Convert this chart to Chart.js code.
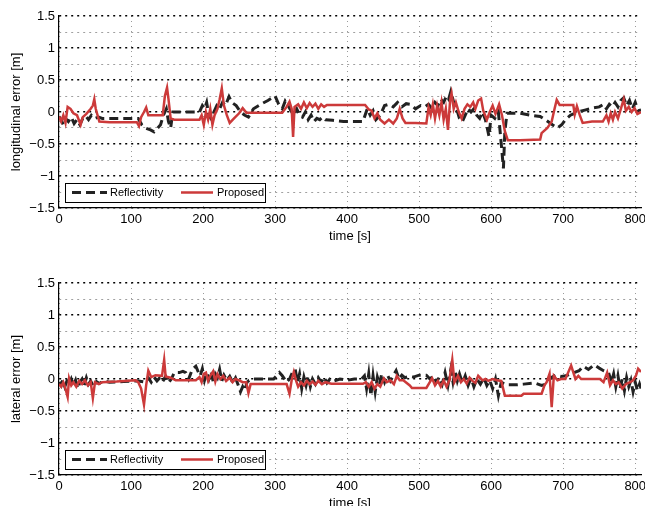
<!DOCTYPE html>
<html>
<head>
<meta charset="utf-8">
<script src="https://cdn.jsdelivr.net/npm/chart.js@4"></script>
<style>
  html, body { margin: 0; padding: 0; background: #fff; overflow: hidden; }
  canvas { position: absolute; left: 0; }
  #lonChart { top: 0; }
  #latChart { top: 267px; }
</style>
</head>
<body>
<canvas id="lonChart" width="645" height="253"></canvas>
<canvas id="latChart" width="645" height="253"></canvas>
<script>
// series labels
const seriesNames = ['Reflectivity', 'Proposed'];

// longitudinal error, Reflectivity
const lonReflT = [0,3,6,9,13,17,21,25,29,33,37,41,45,50,55,60,80,100,110,115,120,127,132,137,141,145,149,152,155,158,180,195,199,202,205,208,212,215,219,223,227,231,236,240,246,252,258,263,270,280,290,300,305,310,314,318,322,326,330,334,338,342,346,350,354,358,362,366,370,380,395,410,422,428,432,436,440,446,452,458,464,470,476,482,488,495,502,508,513,518,522,526,530,534,538,541,544,548,552,556,560,564,568,572,576,580,584,588,592,597,600,605,610,614,617,619,622,640,655,668,675,685,692,698,703,710,720,730,740,750,756,760,764,768,772,776,780,784,788,792,796,800,804,808];
const lonReflV = [-0.07,-0.12,-0.2,-0.1,-0.15,-0.08,-0.18,-0.12,-0.2,-0.1,-0.06,-0.12,-0.05,-0.1,-0.08,-0.1,-0.1,-0.1,-0.1,-0.2,-0.25,-0.28,-0.31,-0.25,-0.2,-0.05,0.05,-0.15,-0.25,0.0,0.0,0.0,0.1,0.05,0.15,-0.05,-0.12,0.0,0.1,0.05,0.15,0.1,0.24,0.15,0.1,0.0,-0.05,-0.08,0.05,0.12,0.18,0.25,0.12,0.05,0.17,0.1,0.02,-0.05,0.05,-0.05,-0.08,0.0,-0.12,-0.05,-0.15,-0.1,-0.12,-0.08,-0.12,-0.13,-0.15,-0.15,-0.15,0.05,-0.05,0.02,-0.12,-0.05,0.1,0.12,0.08,0.15,0.08,0.13,0.12,0.05,0.1,0.08,0.12,0.05,0.15,0.1,0.2,0.15,0.25,0.2,0.32,0.15,0.05,-0.1,-0.15,-0.05,0.05,0.0,0.05,-0.05,-0.1,0.0,-0.12,-0.38,-0.05,-0.1,0.0,-0.5,-0.88,-0.3,-0.02,-0.02,-0.05,-0.07,-0.12,-0.2,-0.25,-0.2,-0.12,-0.05,0.0,0.03,0.06,0.08,0.12,0.05,0.12,0.08,0.15,0.08,0.18,0.22,0.1,0.18,0.05,0.15,0.02,0.03];

// longitudinal error, Proposed
const lonPropT = [0,3,6,9,12,16,20,25,30,33,38,44,47,49,51,56,70,90,108,111,114,118,121,124,144,147,150,152,155,160,195,198,201,204,207,210,213,216,220,223,226,229,233,237,243,250,255,260,300,310,316,320,323,325,327,332,336,340,344,348,352,356,360,364,368,372,425,430,434,438,442,446,452,458,464,469,473,477,481,495,510,513,516,519,522,525,528,531,534,537,540,543,545,548,551,555,559,563,567,571,575,578,582,586,589,594,598,602,606,611,615,619,623,640,668,670,678,684,688,691,695,714,716,719,723,727,740,755,760,763,766,769,772,776,780,784,787,791,795,799,803,808];
const lonPropV = [-0.07,-0.15,-0.05,-0.17,0.08,0.05,-0.02,-0.05,-0.2,-0.08,-0.03,0.05,0.1,0.2,0.05,-0.15,-0.16,-0.16,-0.16,-0.22,-0.08,0.0,0.07,-0.05,-0.05,0.25,0.38,0.2,-0.1,-0.12,-0.12,-0.05,-0.2,0.0,-0.12,0.05,-0.2,-0.05,0.05,0.2,0.37,0.1,-0.05,-0.17,-0.1,-0.02,0.06,-0.01,-0.01,-0.01,0.08,0.16,0.05,-0.39,0.08,0.12,0.05,0.15,0.06,0.14,0.08,0.13,0.05,0.12,0.08,0.11,0.11,0.04,0.02,-0.1,-0.02,-0.12,-0.18,-0.12,-0.18,-0.1,0.05,-0.1,-0.17,-0.17,-0.18,0.07,-0.05,0.12,-0.1,0.1,-0.05,0.15,-0.12,0.05,-0.28,0.18,0.29,0.05,0.15,0.0,-0.1,0.05,0.12,0.08,0.15,0.05,0.18,0.21,0.02,-0.12,0.0,0.1,-0.03,0.12,-0.05,-0.3,-0.44,-0.44,-0.43,-0.33,-0.25,-0.15,0.05,0.19,0.11,0.11,-0.04,0.09,-0.05,-0.17,-0.15,-0.15,-0.05,-0.15,-0.02,-0.12,0.0,-0.1,0.05,0.2,0.02,0.08,0.0,0.06,-0.03,0.0];

// lateral error, Reflectivity
const latReflT = [0,3,5,8,11,14,17,20,23,26,29,32,35,38,41,44,48,52,56,62,70,90,110,120,124,128,132,136,140,144,148,152,156,160,167,172,176,180,185,190,193,196,199,202,205,208,211,214,217,220,223,226,229,233,237,241,245,249,252,255,258,261,264,270,285,298,302,306,310,316,320,324,328,331,334,337,340,343,346,349,352,356,360,364,368,372,376,382,390,400,410,420,424,427,430,433,436,439,442,445,448,452,456,460,464,468,472,476,480,486,492,500,510,515,520,524,528,532,536,540,544,547,550,553,556,560,564,568,572,576,580,585,590,594,598,602,606,610,614,620,635,645,660,670,676,683,690,697,704,715,722,728,735,743,750,756,763,767,770,773,776,779,782,785,788,791,794,797,800,803,806,808];
const latReflV = [-0.05,-0.1,-0.02,-0.12,-0.03,-0.08,0.0,-0.1,-0.02,-0.15,-0.05,0.0,-0.1,0.02,-0.08,-0.03,-0.12,-0.04,-0.07,-0.03,-0.05,-0.04,-0.03,-0.05,0.02,-0.05,0.03,-0.03,0.02,-0.04,0.04,-0.06,0.0,0.1,0.1,0.12,0.1,0.0,0.15,0.2,0.12,0.05,0.16,-0.02,0.1,0.0,0.12,-0.04,0.08,0.02,0.15,-0.03,0.06,-0.02,0.04,-0.05,0.02,-0.1,-0.2,-0.12,-0.18,-0.05,-0.02,0.0,0.0,0.0,0.05,0.1,0.05,-0.05,0.0,0.1,0.15,-0.05,0.08,-0.15,0.03,-0.1,0.05,-0.12,0.0,-0.08,0.02,-0.05,0.03,-0.06,0.0,-0.03,0.0,-0.02,0.0,0.0,0.05,-0.15,0.08,-0.26,0.05,-0.2,0.03,-0.08,0.08,-0.05,0.06,-0.03,0.05,0.13,0.0,0.06,0.02,0.04,0.03,0.06,0.06,0.0,0.05,-0.05,0.03,-0.08,0.1,-0.1,0.15,-0.05,0.12,-0.03,0.08,-0.06,0.05,-0.1,0.02,-0.12,0.0,-0.08,0.02,-0.1,-0.02,-0.15,0.0,-0.26,-0.05,-0.09,-0.09,-0.08,-0.06,-0.1,-0.08,0.02,0.06,0.04,0.05,0.1,0.13,0.2,0.15,0.22,0.17,0.13,0.1,-0.05,0.08,-0.12,0.05,-0.15,0.0,-0.18,0.02,-0.12,-0.02,-0.2,-0.05,-0.18,-0.08,-0.15];

// lateral error, Proposed
const latPropT = [0,3,6,9,12,14,17,20,24,28,32,36,40,44,47,50,55,60,80,106,110,114,118,121,124,128,134,143,146,148,155,162,190,195,198,201,204,207,210,214,217,220,224,228,232,237,241,245,250,255,260,263,266,290,316,320,323,326,329,332,336,340,344,348,352,356,360,365,370,378,422,426,430,434,438,442,446,451,455,460,465,469,473,478,487,490,510,518,522,526,530,534,538,542,546,549,554,558,562,566,570,574,578,582,588,592,596,602,608,614,619,642,645,670,674,677,681,684,687,692,697,703,711,717,721,725,751,756,761,765,769,773,777,782,787,793,797,801,804,808];
const latPropV = [-0.08,-0.12,-0.05,-0.15,-0.28,0.01,-0.1,-0.05,-0.12,-0.03,-0.08,-0.02,-0.1,-0.05,-0.3,-0.05,-0.08,-0.05,-0.04,-0.02,-0.05,-0.15,-0.4,-0.1,0.13,0.03,0.06,0.05,0.3,0.04,0.02,-0.02,-0.02,0.03,-0.05,0.08,0.1,-0.03,0.05,0.12,-0.04,0.08,0.0,0.05,-0.03,0.02,-0.05,0.0,-0.02,-0.05,-0.05,-0.22,-0.08,-0.08,-0.08,-0.23,-0.02,0.11,-0.02,-0.12,-0.05,-0.1,-0.03,-0.08,-0.04,-0.09,-0.03,-0.08,-0.05,-0.075,-0.075,-0.05,-0.12,-0.05,-0.15,-0.08,-0.12,0.01,-0.05,-0.02,-0.08,0.05,-0.02,-0.02,-0.1,-0.14,-0.14,0.01,-0.1,-0.03,-0.12,-0.02,-0.12,-0.02,0.3,-0.05,0.05,-0.05,0.0,-0.07,0.02,-0.03,-0.06,0.05,-0.02,0.0,-0.03,0.0,-0.02,-0.03,-0.26,-0.26,-0.23,-0.23,-0.1,-0.05,0.08,-0.44,0.05,-0.02,0.0,0.0,0.21,0.0,0.05,0.0,0.0,-0.05,0.1,-0.1,-0.02,-0.08,-0.05,-0.15,-0.08,-0.05,-0.02,0.05,0.16,0.11];

// axis ticks
const xTicks = [0, 100, 200, 300, 400, 500, 600, 700, 800];
const yTicks = [1.5, 1.25, 1, 0.75, 0.5, 0.25, 0, -0.25, -0.5, -0.75, -1, -1.25, -1.5];
const yTickLabels = ['1.5', '', '1', '', '0.5', '', '0', '', '\u22120.5', '', '\u22121', '', '\u22121.5'];
const xMax = 808;

const FONT = 'Liberation Sans, Helvetica, Arial, sans-serif';

function toPoints(t, v) {
  return t.map((x, i) => ({ x: x, y: v[i] }));
}

function isMajor(c) {
  return yTickLabels[yTicks.indexOf(c.tick.value)] !== '';
}

// legend box drawn inside the plot, lower left
const insideLegend = {
  id: 'insideLegend',
  afterDatasetsDraw(chart) {
    const ctx = chart.ctx;
    const a = chart.chartArea;
    const bx = a.left + 6, by = a.bottom - 25, bw = 200, bh = 19;
    const cy = by + bh / 2;
    ctx.save();
    ctx.fillStyle = '#fff';
    ctx.fillRect(bx, by, bw, bh);
    ctx.strokeStyle = '#000';
    ctx.lineWidth = 1;
    ctx.strokeRect(bx + 0.5, by + 0.5, bw, bh);
    const ds = chart.data.datasets;
    // Reflectivity sample
    ctx.strokeStyle = ds[0].borderColor;
    ctx.lineWidth = 3;
    ctx.setLineDash([9, 5]);
    ctx.beginPath();
    ctx.moveTo(bx + 7, cy);
    ctx.lineTo(bx + 42, cy);
    ctx.stroke();
    // Proposed sample
    ctx.setLineDash([]);
    ctx.strokeStyle = ds[1].borderColor;
    ctx.lineWidth = 2.5;
    ctx.beginPath();
    ctx.moveTo(bx + 116, cy);
    ctx.lineTo(bx + 148, cy);
    ctx.stroke();
    ctx.fillStyle = '#000';
    ctx.font = '11px ' + FONT;
    ctx.textBaseline = 'middle';
    ctx.fillText(ds[0].label, bx + 45, cy + 0.5);
    ctx.fillText(ds[1].label, bx + 152, cy + 0.5);
    ctx.restore();
  }
};

function makeChart(id, yTitle, rT, rV, pT, pV) {
  const ctx = document.getElementById(id).getContext('2d');
  return new Chart(ctx, {
    type: 'line',
    data: {
      datasets: [{
        label: seriesNames[0],
        data: toPoints(rT, rV),
        borderColor: '#222222',
        borderWidth: 3,
        borderDash: [9, 5],
        pointRadius: 0,
        fill: false,
        order: 2
      }, {
        label: seriesNames[1],
        data: toPoints(pT, pV),
        borderColor: '#cc3a3a',
        borderWidth: 2.5,
        pointRadius: 0,
        fill: false,
        order: 1
      }]
    },
    options: {
      responsive: false,
      animation: false,
      devicePixelRatio: 1,
      layout: { padding: { top: 16, right: 4, left: 0, bottom: 0 } },
      plugins: {
        legend: { display: false },
        tooltip: { enabled: false }
      },
      scales: {
        x: {
          type: 'linear',
          min: 0,
          max: xMax,
          afterBuildTicks(scale) { scale.ticks = xTicks.map(v => ({ value: v })); },
          afterFit(scale) {
            scale.height = 45;
            scale.paddingLeft = 0;
            scale.paddingRight = 0;
          },
          ticks: {
            padding: 4,
            color: '#000',
            font: { family: FONT, size: 13 }
          },
          grid: { color: '#9a9a9a', lineWidth: 1, drawTicks: false },
          border: { display: true, color: '#000', width: 1.2, dash: [1, 4] },
          title: {
            display: true,
            text: 'time [s]',
            color: '#000',
            font: { family: FONT, size: 13 },
            padding: { top: 0, bottom: 9 }
          }
        },
        y: {
          min: -1.5,
          max: 1.5,
          afterBuildTicks(scale) { scale.ticks = yTicks.map(v => ({ value: v })); },
          afterFit(scale) {
            scale.width = 59;
            scale.paddingTop = 0;
            scale.paddingBottom = 0;
          },
          ticks: {
            autoSkip: false,
            padding: 4,
            color: '#000',
            font: { family: FONT, size: 13 },
            callback: (value, i) => yTickLabels[yTicks.indexOf(value)]
          },
          grid: {
            drawTicks: false,
            color: c => (isMajor(c) ? '#000' : '#a0a0a0'),
            lineWidth: c => (isMajor(c) ? 1.5 : 1)
          },
          border: { display: true, color: '#000', width: 1.2, dash: [2, 4] },
          title: {
            display: true,
            text: yTitle,
            color: '#000',
            font: { family: FONT, size: 13 },
            padding: { top: 9, bottom: 9 }
          }
        }
      }
    },
    plugins: [insideLegend]
  });
}

makeChart('lonChart', 'longitudinal error [m]', lonReflT, lonReflV, lonPropT, lonPropV);
makeChart('latChart', 'lateral error [m]', latReflT, latReflV, latPropT, latPropV);
</script>
</body>
</html>
